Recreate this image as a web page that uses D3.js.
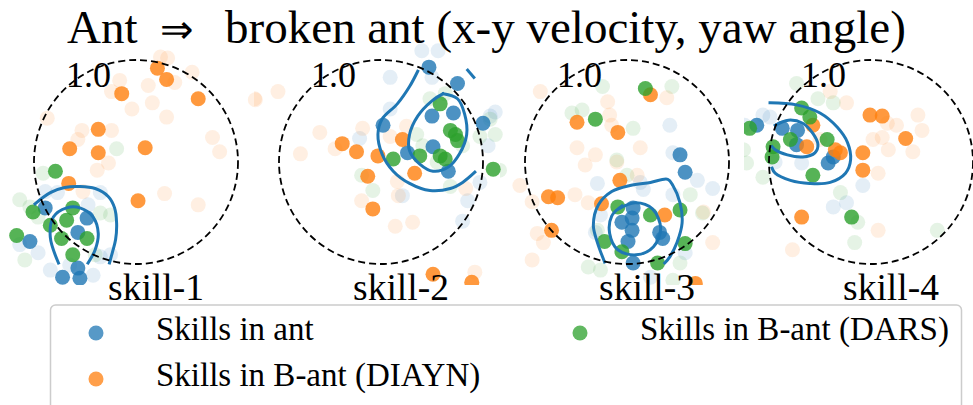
<!DOCTYPE html>
<html>
<head>
<meta charset="utf-8">
<script src="https://cdn.jsdelivr.net/npm/d3@7"></script>
<style>
  body { margin: 0; background: #fff; }
  text { font-family: "Liberation Serif", "Times New Roman", serif; fill: #000; }
</style>
</head>
<body>
<svg id="chart"></svg>
<script>
// chart text
var titleLeft = "Ant";
var titleArrow = "\u21D2";
var titleRight = "broken ant (x-y velocity, yaw angle)";
var skillNames = ["skill-1", "skill-2", "skill-3", "skill-4"];
var ringLabel = "1.0";
var seriesNames = ["Skills in ant", "Skills in B-ant (DIAYN)", "Skills in B-ant (DARS)"];

// points in units of the 1.0 ring, one list per skill
var antPoints = [
  [[-0.89,-0.45],[-0.48,-0.55],[-0.57,-0.69],[-1.04,-0.78],[-0.57,-1.04],[-0.72,-1.13],[-0.55,-1.14]],
  [[0.47,0.93],[0.75,0.77],[0.50,0.45],[0.71,0.48],[0.02,0.36],[1.00,0.38],[0.51,0.15],[0.26,0.09],[0.66,-0.09]],
  [[0.52,0.07],[0.57,-0.10],[0.06,-0.45],[0.05,-0.55],[-0.05,-0.59],[0.05,-0.67],[0.01,-0.78],[0.32,-0.69],[0.35,-0.75],[0.06,-0.99]],
  [[-1.12,0.36],[-0.87,0.33],[-0.72,0.31],[-0.73,0.17],[-0.42,-0.01],[-0.37,0.05]]
];
var diaynPoints = [
  [[0.21,0.92],[0.30,0.81],[-0.14,0.67],[0.61,0.62],[-0.37,0.32],[-0.65,0.13],[-0.37,0.09],[0.09,0.14],[-0.66,-0.21],[0.02,-0.38]],
  [[0.21,0.22],[-0.03,0.06],[-0.13,-0.14],[0.33,-0.11],[-0.38,0.18],[-0.24,0.10],[-0.08,-0.46],[0.51,-1.10],[0.89,-1.18]],
  [[0.23,0.66],[-0.49,0.39],[-0.09,0.29],[-0.07,-0.18],[-0.77,-0.34],[-0.68,-0.35],[-0.25,-0.41],[0.37,-0.52],[-0.74,-0.67],[0.67,-1.19]],
  [[-0.01,0.46],[0.11,0.45],[0.34,0.23],[-0.08,0.09],[-0.08,-0.08],[-0.30,0.09],[-0.35,0.12],[-0.63,0.15],[-0.57,0.36],[-0.68,-0.54]]
];
var darsPoints = [
  [[-0.79,-0.09],[-1.01,-0.49],[-0.62,-0.45],[-0.68,-0.57],[-0.84,-0.62],[-0.48,-0.75],[-0.73,-0.75],[-1.17,-0.72],[-0.62,-0.91]],
  [[0.58,0.57],[0.73,0.27],[0.68,0.31],[0.75,0.21],[0.58,0.06],[0.63,0.03],[0.38,0.06],[0.12,0.03],[1.10,-0.07]],
  [[0.18,0.72],[-0.31,0.42],[-0.09,-0.44],[0.23,-0.52],[0.52,-0.47],[-0.22,-0.78],[-0.05,-0.88],[0.30,-0.99],[0.57,-0.80]],
  [[-0.68,0.53],[-0.60,0.44],[-0.79,0.22],[-0.43,0.22],[-0.97,0.05],[-0.57,-0.13],[-0.19,-0.54],[-1.19,0.33],[-0.96,0.15]]
];

// faint (other seeds) points
var antFaint = [
  [[-0.89,-0.29],[-0.35,-0.30],[-0.96,-0.89],[-0.84,-1.06],[-0.42,-1.11],[-0.77,-0.30],[-0.35,-0.93],[-0.25,-0.91],[-0.47,-0.42],[-1.14,-0.81],[-0.65,-1.01]],
  [[0.09,0.83],[0.50,0.83],[0.56,1.09],[0.40,1.09],[1.12,0.49],[1.05,0.16],[0.80,-0.58],[0.85,-0.38],[0.21,-0.33],[-0.21,0.23],[0.97,-0.20],[1.07,0.45],[0.09,0.52]],
  [[0.42,0.36],[0.45,0.09],[0.69,-0.18],[0.84,-0.26],[-0.29,-0.21],[0.16,-0.27],[0.23,-1.13],[0.57,-0.89],[-0.31,-0.69],[0.45,-0.32],[0.13,-0.20],[-0.26,-0.52]],
  [[-1.06,0.46],[-0.99,0.44],[-0.08,-0.23],[-0.37,-0.44],[-0.24,-0.40],[-0.94,0.00],[-0.68,-0.01],[-1.24,0.36]]
];
var diaynFaint = [
  [[0.24,1.03],[0.31,1.02],[-0.16,0.80],[0.12,0.75],[0.38,0.78],[0.55,0.88],[0.16,0.58],[-0.04,0.52],[0.30,0.44],[-0.24,0.69],[1.17,0.61],[-0.87,0.43],[-0.53,0.31],[-0.24,0.31],[-0.57,0.22],[0.75,0.24],[0.82,0.10],[-0.27,-0.01],[-0.38,-0.08],[0.28,-0.31],[0.61,-0.42],[-0.52,-0.29]],
  [[-1.24,0.62],[-1.01,0.69],[-0.79,0.08],[-0.60,0.29],[-0.18,0.33],[0.16,-0.19],[0.14,-0.63],[0.31,-0.59],[-0.19,-0.38],[0.09,0.25],[0.25,0.35],[0.17,-0.33],[0.83,-0.26],[0.92,-1.08],[-0.45,0.13]],
  [[-0.85,0.69],[-0.19,0.59],[0.39,0.63],[-0.17,0.46],[-0.15,0.36],[-0.49,0.14],[-0.31,0.07],[-0.41,-0.03],[-0.10,0.00],[0.13,0.14],[-1.05,-0.23],[-0.93,-0.39],[-0.51,-0.32],[-0.38,-0.40],[-0.82,-0.79],[-0.88,-0.70],[-0.93,-0.96],[0.84,-0.79],[0.75,-0.49],[0.10,-0.13]],
  [[-0.40,0.69],[-0.24,0.58],[0.46,0.46],[0.50,0.31],[0.25,0.36],[0.16,0.38],[0.11,0.24],[0.02,0.22],[0.17,0.12],[0.41,0.10],[0.07,-0.11],[0.07,-0.67],[-0.77,-0.86],[-0.50,0.22]]
];
var darsFaint = [
  [[-0.19,0.13],[-0.91,-0.11],[-1.09,-0.96],[-0.35,-0.50],[-0.25,-0.52],[-1.04,-0.44],[-0.96,-0.54],[-0.40,-0.91],[-1.14,-0.37]],
  [[0.48,0.62],[1.07,0.42],[0.97,0.25],[1.12,0.27],[0.68,-0.24],[-0.08,-0.28],[-0.19,-0.13],[0.35,0.27],[0.41,0.16],[0.80,0.16],[0.55,0.00],[0.63,0.67]],
  [[-0.24,0.74],[0.44,0.74],[-0.54,0.48],[-0.44,0.51],[0.06,0.33],[-0.10,0.02],[0.00,-0.13],[0.62,-0.32],[0.74,-0.50],[-1.25,-0.08],[-0.38,-1.03],[-0.26,-1.06],[0.45,-1.16],[0.52,-0.99],[-0.29,-0.67]],
  [[-0.73,0.77],[-0.37,0.58],[-0.52,0.62],[-1.06,-0.15],[-0.30,-0.30],[-0.13,-0.59],[-0.16,-0.79],[0.65,-0.67],[-1.22,-0.01],[-1.25,0.12]]
];

// yaw-angle traces, one or more strokes per skill
var yawCurves = [
  [
    [[-0.99,-0.41],[-0.84,-0.30],[-0.70,-0.25],[-0.55,-0.24],[-0.40,-0.26],[-0.27,-0.34],[-0.21,-0.45],[-0.19,-0.60],[-0.20,-0.76],[-0.23,-0.88],[-0.26,-0.99]],
    [[-0.76,-0.99],[-0.84,-0.74],[-0.81,-0.54],[-0.68,-0.45],[-0.55,-0.45],[-0.42,-0.54],[-0.37,-0.70],[-0.40,-0.86],[-0.47,-0.99]]
  ],
  [
    [[0.36,0.89],[0.28,0.74],[0.16,0.57],[0.01,0.42],[-0.03,0.27],[0.01,0.08],[0.12,-0.09],[0.28,-0.21],[0.48,-0.28],[0.68,-0.26],[0.80,-0.20],[0.92,-0.10]],
    [[0.61,0.67],[0.75,0.62],[0.82,0.47],[0.84,0.27],[0.77,0.08],[0.66,-0.05],[0.51,-0.09],[0.38,-0.02],[0.28,0.11],[0.28,0.27],[0.36,0.45],[0.50,0.60],[0.61,0.67]],
    [[0.85,0.90],[0.91,0.83]]
  ],
  [
    [[-0.22,-0.98],[-0.29,-0.79],[-0.33,-0.62],[-0.28,-0.42],[-0.15,-0.29],[0.03,-0.23],[0.23,-0.20],[0.40,-0.17],[0.45,-0.23],[0.52,-0.40],[0.54,-0.60],[0.49,-0.79],[0.42,-0.93],[0.37,-0.99]],
    [[-0.10,-0.47],[0.08,-0.40],[0.25,-0.46],[0.33,-0.65],[0.26,-0.83],[0.09,-0.91],[-0.09,-0.86],[-0.17,-0.70],[-0.15,-0.53],[-0.05,-0.43]]
  ],
  [
    [[-0.99,0.58],[-0.73,0.56],[-0.50,0.48],[-0.33,0.34],[-0.23,0.19],[-0.20,0.02],[-0.25,-0.11],[-0.40,-0.20],[-0.60,-0.21],[-0.79,-0.18],[-0.94,-0.11],[-0.97,-0.06]],
    [[-0.94,0.36],[-0.81,0.41],[-0.67,0.38],[-0.57,0.28],[-0.52,0.17],[-0.55,0.09],[-0.67,0.05],[-0.82,0.07],[-0.94,0.12],[-0.97,0.15]]
  ]
];

var svgWidth = 973;
var svgHeight = 405;
var centersX = [136, 381, 627, 871];
var centerY = 162;
var ringR = 102;
var colors = ["#1f77b4", "#ff7f0e", "#2ca02c"];

var svg = d3.select("#chart")
    .attr("width", svgWidth)
    .attr("height", svgHeight);

var defs = svg.append("defs");

var solidSets = [antPoints, diaynPoints, darsPoints];
var faintSets = [antFaint, diaynFaint, darsFaint];

skillNames.forEach(function(name, i) {
    var cx = centersX[i];

    var x = d3.scaleLinear().domain([-1, 1]).range([cx - ringR, cx + ringR]);
    var y = d3.scaleLinear().domain([-1, 1]).range([centerY + ringR, centerY - ringR]);

    // each panel is clipped like a matplotlib axes
    defs.append("clipPath").attr("id", "clip" + i)
      .append("rect")
        .attr("x", cx - 127)
        .attr("y", 40)
        .attr("width", 254)
        .attr("height", 245);

    var panel = svg.append("g").attr("clip-path", "url(#clip" + i + ")");

    faintSets.forEach(function(set, s) {
        panel.append("g").selectAll("circle")
            .data(set[i])
            .enter()
            .append("circle")
            .attr("cx", d => x(d[0]))
            .attr("cy", d => y(d[1]))
            .attr("r", 7.5)
            .attr("fill", colors[s])
            .attr("fill-opacity", 0.12);
    });

    solidSets.forEach(function(set, s) {
        panel.append("g").selectAll("circle")
            .data(set[i])
            .enter()
            .append("circle")
            .attr("cx", d => x(d[0]))
            .attr("cy", d => y(d[1]))
            .attr("r", 7.5)
            .attr("fill", colors[s])
            .attr("fill-opacity", 0.8);
    });

    var line = d3.line()
        .x(d => x(d[0]))
        .y(d => y(d[1]))
        .curve(d3.curveCatmullRom.alpha(0.5));

    panel.selectAll("path.yaw")
        .data(yawCurves[i])
        .enter()
        .append("path")
        .attr("class", "yaw")
        .attr("d", line)
        .attr("fill", "none")
        .attr("stroke", "#1f77b4")
        .attr("stroke-width", 3)
        .attr("stroke-linecap", "square");

    // the 1.0 ring
    svg.append("circle")
        .attr("cx", x(0))
        .attr("cy", y(0))
        .attr("r", x(1) - x(0))
        .attr("fill", "none")
        .attr("stroke", "#000")
        .attr("stroke-width", 1.8)
        .attr("stroke-dasharray", "7,4");

    svg.append("text")
        .attr("x", cx - 70)
        .attr("y", centerY - 75)
        .attr("font-size", 36)
        .text(ringLabel);

    svg.append("text")
        .attr("x", cx + 20)
        .attr("y", 300)
        .attr("text-anchor", "middle")
        .attr("font-size", 37.5)
        .text(name);
});

// title
svg.append("text").attr("x", 67).attr("y", 43).attr("font-size", 47).text(titleLeft);
svg.append("text").attr("x", 177).attr("y", 43).attr("text-anchor", "middle")
    .attr("font-size", 40).attr("font-family", "DejaVu Serif, serif").text(titleArrow);
svg.append("text").attr("x", 225).attr("y", 43).attr("font-size", 47).text(titleRight);

// legend
var legend = svg.append("g");
legend.append("rect")
    .attr("x", 50.5)
    .attr("y", 305)
    .attr("width", 911)
    .attr("height", 120)
    .attr("rx", 5)
    .attr("fill", "#fff")
    .attr("fill-opacity", 0.8)
    .attr("stroke", "#cccccc")
    .attr("stroke-width", 1.5);

var legendPos = [[96, 333], [96, 379], [580, 333]];
seriesNames.forEach(function(label, s) {
    legend.append("circle")
        .attr("cx", legendPos[s][0])
        .attr("cy", legendPos[s][1])
        .attr("r", 7.5)
        .attr("fill", colors[s])
        .attr("fill-opacity", 0.75);
    legend.append("text")
        .attr("x", legendPos[s][0] + 60)
        .attr("y", legendPos[s][1] + 7)
        .attr("font-size", 33)
        .text(label);
});
</script>
</body>
</html>
